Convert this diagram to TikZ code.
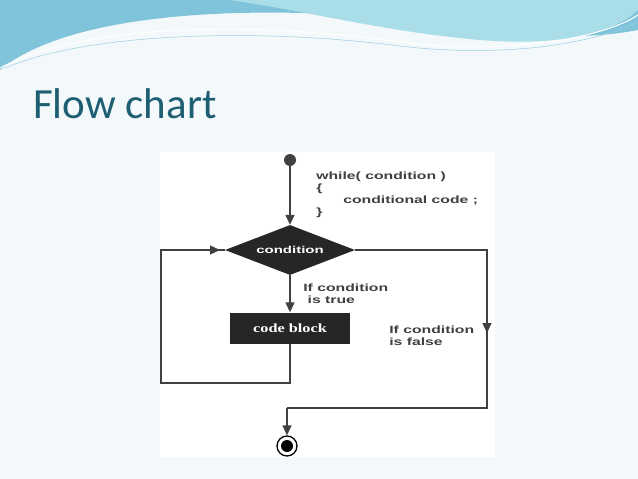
\documentclass[tikz,border=0pt]{standalone}
\usepackage{fontspec}
\setmainfont{Liberation Sans}
\newfontfamily\titlefont{Carlito}
\newfontfamily\blockfont{Liberation Serif}
\usetikzlibrary{arrows.meta,shapes.geometric,positioning}
\definecolor{slidebg}{HTML}{F3F8FB}
\definecolor{wavedark}{HTML}{7FC4DA}
\definecolor{wavelight}{HTML}{A9DDE8}
\definecolor{titleteal}{HTML}{1D5E72}
\definecolor{inkgray}{HTML}{404040}
\tikzset{
  flowline/.style={line width=1.3pt, draw=inkgray},
  flowarrow/.style={flowline, -{Triangle[length=10pt,width=9pt]}},
  chartlabel/.style={font=\bfseries\fontsize{10.5}{12}\selectfont, text=inkgray, align=left, anchor=west, inner sep=0pt, xscale=1.5, transform shape},
}
\begin{document}
\begin{tikzpicture}[x=1pt,y=-1pt]
  \useasboundingbox (0,0) rectangle (638,479);
  \fill[slidebg] (0,0) rectangle (638,479);
  %--- Header waves
  \fill[wavedark] (0,0) -- (638,0) -- (638,30) .. controls (560,45) and (470,30) .. (330,14)
    .. controls (200,8) and (60,20) .. (0,70) -- cycle;
  \fill[wavelight] (230,0) -- (638,0) -- (638,10) .. controls (600,45) and (520,45) .. (460,38)
    .. controls (380,30) and (300,10) .. (230,0) -- cycle;
  \draw[white, line width=1pt] (0,68) .. controls (80,25) and (250,20) .. (400,42) .. controls (500,55) and (600,40) .. (638,15);
  \draw[wavedark!80, line width=0.5pt] (5,68) .. controls (90,32) and (260,28) .. (400,46) .. controls (500,58) and (590,45) .. (638,22);
  %--- Title
  \node[anchor=base west, inner sep=0pt, text=titleteal, font=\titlefont\fontsize{43}{46}\selectfont] (title) at (33,118) {Flow chart};
  %--- Chart panel
  \fill[white] (160,152) rectangle (495,457);
  \coordinate (start) at (290,160);
  \fill[inkgray] (start) circle [radius=6];
  \node[diamond, fill=black!85, minimum width=130pt, minimum height=50pt, aspect=2.6, inner sep=0pt,
        text=white, font=\bfseries\fontsize{10}{11}\selectfont] (cond) at (290,250) {\scalebox{1.5}[1]{condition}};
  \node[rectangle, fill=black!85, minimum width=120pt, minimum height=31pt, text=white,
        font=\bfseries\blockfont\fontsize{12.5}{13}\selectfont] (block) at (290,328) {\scalebox{1.3}[1]{code block}};
  \node[circle, draw=black, line width=1.3pt, minimum size=20pt, inner sep=0pt, fill=white] (end) at (287,446) {};
  \fill[black] (end) circle [radius=6];
  \coordinate (loopA) at (290,383);
  \coordinate (loopB) at (161,383);
  \coordinate (loopC) at (161,250);
  \coordinate (rightA) at (487,250);
  \coordinate (rightB) at (487,408);
  \coordinate (rightC) at (287,408);
  %--- Connectors
  \draw[flowarrow] (start) -- (cond.north);
  \draw[flowarrow] (cond.south) -- (block.north);
  \draw[flowline] (block.south) -- (loopA) -- (loopB) -- (loopC) -- (cond.west);
  \draw[flowarrow] (loopC) -- (220,250);
  \draw[flowline] (cond.east) -- (rightA) -- (rightB) -- (rightC);
  \draw[flowarrow] (rightA) -- (487,333);
  \draw[flowarrow] (rightC) -- (end.north);
  %--- Labels
  \node[chartlabel] (code) at (316,195) {while( condition )\\[0pt]\{\\[0pt]\hspace{18pt}conditional code ;\\[0pt]\}};
  \node[chartlabel] (truelbl) at (303,294) {If condition\\\ is true};
  \node[chartlabel] (falselbl) at (389,336) {If condition\\is false};
\end{tikzpicture}
\end{document}
